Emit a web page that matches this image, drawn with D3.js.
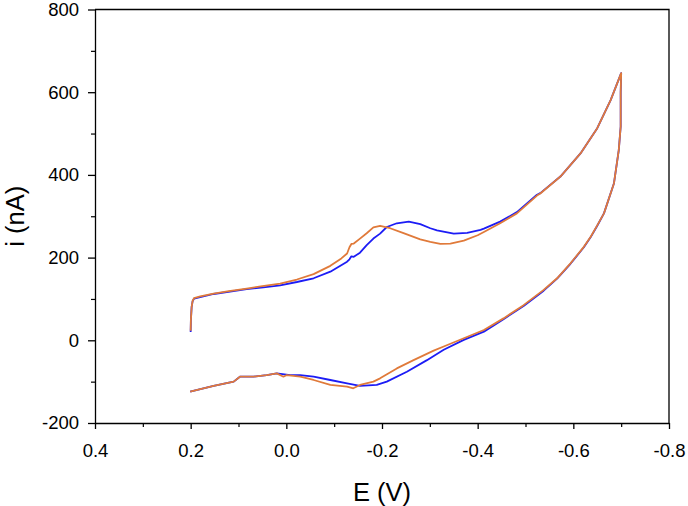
<!DOCTYPE html>
<html>
<head>
<meta charset="utf-8">
<script src="https://cdn.jsdelivr.net/npm/d3@7"></script>
<style>
  html, body { margin: 0; padding: 0; background: #fff; }
  svg { display: block; font-family: "Liberation Sans", Arial, sans-serif; }
</style>
</head>
<body>
<svg id="chart" width="688" height="506"></svg>
<script>
// ---- data (E in V, i in nA) ----
const xTicks = [0.4, 0.2, 0.0, -0.2, -0.4, -0.6, -0.8];
const xTickLabels = ["0.4", "0.2", "0.0", "-0.2", "-0.4", "-0.6", "-0.8"];
const xMinorTicks = [0.3, 0.1, -0.1, -0.3, -0.5, -0.7];
const yTicks = [-200, 0, 200, 400, 600, 800];
const yTickLabels = ["-200", "0", "200", "400", "600", "800"];
const yMinorTicks = [-100, 100, 300, 500, 700];

const blueE = [0.200, 0.1995, 0.198, 0.196, 0.193, 0.152, 0.083, 0.048, 0.013, -0.022, -0.057, -0.092, -0.127, -0.132, -0.136, -0.141, -0.154, -0.168, -0.182, -0.196, -0.210, -0.231, -0.256, -0.280, -0.301, -0.315, -0.350, -0.378, -0.406, -0.413, -0.447, -0.482, -0.524, -0.531, -0.573, -0.615, -0.650, -0.678, -0.700,
  -0.699, -0.699, -0.695, -0.685, -0.664, -0.650, -0.636, -0.622, -0.601, -0.594, -0.566, -0.538, -0.496, -0.454, -0.413, -0.371, -0.329, -0.294, -0.252, -0.210, -0.189, -0.154, -0.127, -0.092, -0.057, -0.029, -0.008, 0.020, 0.041, 0.069, 0.097, 0.110, 0.152, 0.201];
const blueI = [20, 50, 80, 94, 101, 112, 124, 128, 133, 141, 150, 166, 190, 196, 203, 202, 212, 230, 246, 258, 274, 283, 287, 281, 271, 266, 258, 260, 267, 270, 287, 310, 352, 356, 396, 452, 513, 581, 646,
  600, 517, 460, 380, 307, 277, 249, 225, 195, 185, 149, 120, 83, 51, 21, 1, -23, -48, -76, -100, -108, -110, -104, -96, -88, -84, -84, -80, -84, -88, -88, -100, -110, -124];

const orangeE = [0.200, 0.1995, 0.198, 0.196, 0.193, 0.180, 0.152, 0.120, 0.083, 0.050, 0.013, -0.022, -0.057, -0.092, -0.115, -0.127, -0.132, -0.136, -0.141, -0.154, -0.168, -0.182, -0.196, -0.217, -0.245, -0.280, -0.301, -0.322, -0.343, -0.371, -0.400, -0.413, -0.447, -0.482, -0.524, -0.531, -0.573, -0.615, -0.650, -0.678, -0.700,
  -0.699, -0.699, -0.695, -0.685, -0.664, -0.650, -0.636, -0.622, -0.601, -0.594, -0.566, -0.538, -0.496, -0.454, -0.413, -0.371, -0.329, -0.308, -0.266, -0.231, -0.196, -0.182, -0.154, -0.140, -0.127, -0.092, -0.057, -0.029, -0.001, 0.006, 0.020, 0.041, 0.069, 0.097, 0.110, 0.152, 0.201];
const orangeI = [23, 50, 80, 95, 102, 106, 113, 119, 125, 131, 137, 147, 160, 180, 198, 210, 225, 233, 234, 246, 259, 273, 277, 271, 259, 244, 238, 233, 234, 241, 254, 262, 283, 307, 350, 355, 396, 452, 513, 581, 646,
  600, 517, 460, 380, 307, 278, 250, 226, 196, 186, 150, 122, 85, 53, 25, 5, -15, -25, -48, -68, -92, -100, -108, -116, -112, -108, -96, -88, -84, -88, -80, -84, -88, -88, -100, -110, -124];

// ---- layout ----
const svg = d3.select("#chart");
const mLeft = 95, mRight = 669, mTop = 9.5, mBottom = 423;
const x = d3.scaleLinear().domain([0.4, -0.8]).range([mLeft, mRight]);
const y = d3.scaleLinear().domain([-200, 800]).range([mBottom, mTop]);

// frame (top & right)
svg.append("path")
  .attr("d", `M${mLeft},${mTop}H${mRight}V${mBottom}`)
  .attr("fill", "none").attr("stroke", "#000").attr("stroke-width", 1.3);

// minor ticks
svg.append("g").attr("transform", `translate(0,${mBottom})`)
  .call(d3.axisBottom(x).tickValues(xMinorTicks).tickSize(4).tickFormat(""))
  .call(g => g.select(".domain").remove())
  .call(g => g.selectAll("line").attr("stroke-width", 1.2));
svg.append("g").attr("transform", `translate(${mLeft},0)`)
  .call(d3.axisLeft(y).tickValues(yMinorTicks).tickSize(4).tickFormat(""))
  .call(g => g.select(".domain").remove())
  .call(g => g.selectAll("line").attr("stroke-width", 1.2));

// major axes
const xAxis = svg.append("g").attr("transform", `translate(0,${mBottom})`)
  .call(d3.axisBottom(x).tickValues(xTicks).tickSize(6).tickPadding(14.5).tickSizeOuter(0)
    .tickFormat((d, i) => xTickLabels[i]));
const yAxis = svg.append("g").attr("transform", `translate(${mLeft},0)`)
  .call(d3.axisLeft(y).tickValues(yTicks).tickSize(7).tickPadding(9).tickSizeOuter(0)
    .tickFormat((d, i) => yTickLabels[i]));
[xAxis, yAxis].forEach(g => {
  g.attr("font-family", "'Liberation Sans', Arial, sans-serif").attr("font-size", 18.5);
  g.selectAll("text").attr("fill", "#000");
  g.selectAll("line").attr("stroke", "#000").attr("stroke-width", 1.3);
  g.select(".domain").attr("stroke", "#000").attr("stroke-width", 1.3);
});

// curves
const line = d3.line().x(d => x(d[0])).y(d => y(d[1]));
const blue = blueE.map((e, i) => [e, blueI[i]]);
const orange = orangeE.map((e, i) => [e, orangeI[i]]);
svg.append("path").datum(blue).attr("d", line)
  .attr("fill", "none").attr("stroke", "#1c1cf5").attr("stroke-width", 1.8).attr("stroke-linejoin", "round");
svg.append("path").datum(orange).attr("d", line)
  .attr("fill", "none").attr("stroke", "#e07a3a").attr("stroke-width", 1.8).attr("stroke-linejoin", "round");

// axis titles
svg.append("text").attr("x", (mLeft + mRight) / 2).attr("y", 500.5)
  .attr("text-anchor", "middle").attr("font-size", 25.5).attr("fill", "#000").text("E (V)");
svg.append("text").attr("transform", `translate(23.5,${(mTop + mBottom) / 2}) rotate(-90)`)
  .attr("text-anchor", "middle").attr("font-size", 25.5).attr("fill", "#000").text("i (nA)");
</script>
</body>
</html>
